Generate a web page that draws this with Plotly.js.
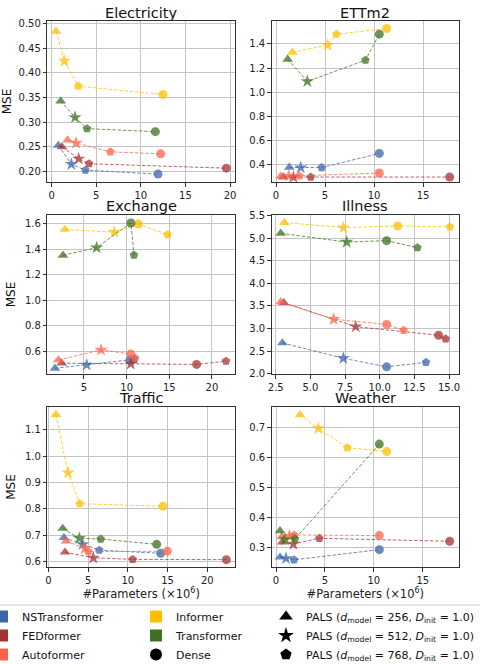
<!DOCTYPE html>
<html>
<head>
<meta charset="utf-8">
<script src="https://cdn.plot.ly/plotly-3.0.1.min.js"></script>
<style>html,body{margin:0;padding:0;background:#fff;}#chart{width:480px;height:664px;}</style>
</head>
<body>
<div id="chart"></div>
<script>
// Models and datasets
const models = ['NSTransformer', 'FEDformer', 'Autoformer', 'Informer', 'Transformer'];
const datasets = ['Electricity', 'ETTm2', 'Exchange', 'Illness', 'Traffic', 'Weather'];
// point order in every row: [PALS d=256 (triangle), PALS d=512 (star), PALS d=768 (pentagon), Dense (circle)]
const variantNames = ['PALS (<i>d</i><sub>model</sub> = 256, <i>D</i><sub>init</sub> = 1.0)',
                      'PALS (<i>d</i><sub>model</sub> = 512, <i>D</i><sub>init</sub> = 1.0)',
                      'PALS (<i>d</i><sub>model</sub> = 768, <i>D</i><sub>init</sub> = 1.0)',
                      'Dense'];

// #Parameters (x10^6), one row per model
const electricityParams = [[0.75, 2.21, 3.78, 11.93], [1.16, 3.03, 4.19, 19.59], [1.79, 2.73, 6.58, 12.22], [0.49, 1.42, 2.99, 12.49], [1.01, 2.62, 3.96, 11.63]];
const electricityMSE    = [[0.253, 0.215, 0.203, 0.195], [0.250, 0.226, 0.216, 0.207], [0.264, 0.258, 0.240, 0.236], [0.484, 0.424, 0.373, 0.356], [0.343, 0.310, 0.287, 0.281]];

const ettm2Params = [[1.36, 2.52, 4.66, 10.54], [0.74, 1.77, 3.54, 17.72], [0.48, 1.30, 2.38, 10.54], [1.67, 5.27, 6.16, 11.29], [1.19, 3.20, 9.12, 10.54]];
const ettm2MSE    = [[0.380, 0.378, 0.378, 0.495], [0.300, 0.300, 0.300, 0.300], [0.307, 0.310, 0.310, 0.333], [1.330, 1.390, 1.480, 1.527], [1.273, 1.090, 1.265, 1.480]];

const exchangeParams = [[1.60, 5.32, 10.90, 10.40], [2.39, 10.48, 21.65, 18.20], [2.00, 7.00, 10.98, 10.48], [2.77, 8.55, 14.80, 11.37], [2.54, 6.48, 10.86, 10.50]];
const exchangeMSE    = [[0.470, 0.496, 0.540, 0.535], [0.510, 0.505, 0.525, 0.500], [0.535, 0.613, 0.550, 0.582], [1.553, 1.532, 1.512, 1.595], [1.351, 1.411, 1.353, 1.603]];

const illnessParams = [[2.98, 7.38, 13.34, 10.50], [3.08, 8.27, 14.76, 14.25], [2.86, 6.68, 11.73, 10.50], [3.12, 7.38, 15.07, 11.30], [2.86, 7.62, 12.72, 10.50]];
const illnessMSE    = [[2.68, 2.34, 2.25, 2.15], [3.57, 3.04, 2.77, 2.85], [3.588, 3.205, 2.96, 3.09], [5.345, 5.235, 5.25, 5.27], [5.107, 4.915, 4.79, 4.945]];

const trafficParams = [[1.97, 4.32, 6.41, 14.13], [2.10, 5.66, 10.60, 22.39], [2.23, 4.60, 5.03, 14.97], [0.96, 2.47, 3.94, 14.42], [1.81, 3.90, 6.58, 13.63]];
const trafficMSE    = [[0.691, 0.666, 0.644, 0.632], [0.636, 0.615, 0.609, 0.608], [0.678, 0.651, 0.638, 0.640], [1.157, 0.937, 0.820, 0.810], [0.726, 0.689, 0.686, 0.666]];

const weatherParams = [[0.41, 1.02, 1.84, 10.56], [0.64, 1.77, 4.43, 17.75], [0.58, 1.36, 1.84, 10.56], [2.45, 4.33, 7.29, 11.31], [0.41, 0.92, 1.94, 10.56]];
const weatherMSE    = [[0.267, 0.263, 0.258, 0.292], [0.317, 0.311, 0.330, 0.320], [0.335, 0.338, 0.341, 0.339], [0.743, 0.697, 0.633, 0.620], [0.355, 0.326, 0.328, 0.645]];

// Axis tick labels
const electricityXTicks = [0, 5, 10, 15, 20];
const electricityYTicks = [0.20, 0.25, 0.30, 0.35, 0.40, 0.45, 0.50];
const ettm2XTicks = [0, 5, 10, 15];
const ettm2YTicks = [0.4, 0.6, 0.8, 1.0, 1.2, 1.4];
const exchangeXTicks = [5, 10, 15, 20];
const exchangeYTicks = [0.6, 0.8, 1.0, 1.2, 1.4, 1.6];
const illnessXTicks = [2.5, 5.0, 7.5, 10.0, 12.5, 15.0];
const illnessYTicks = [2.0, 2.5, 3.0, 3.5, 4.0, 4.5, 5.0, 5.5];
const trafficXTicks = [0, 5, 10, 15, 20];
const trafficYTicks = [0.6, 0.7, 0.8, 0.9, 1.0, 1.1];
const weatherXTicks = [0, 5, 10, 15];
const weatherYTicks = [0.3, 0.4, 0.5, 0.6, 0.7];

// ---------- styling ----------
const colors = ['#3b66a8', '#a83232', '#ff6347', '#ffbf00', '#3e7222'];
const lineColors = ['rgba(59,102,168,0.75)', 'rgba(168,50,50,0.75)', 'rgba(255,99,71,0.75)', 'rgba(255,191,0,0.75)', 'rgba(62,114,34,0.75)'];
const symbols = ['triangle-up', 'star', 'pentagon', 'circle'];
const symSizes = [9.5, 10, 9, 9];

const allParams = [electricityParams, ettm2Params, exchangeParams, illnessParams, trafficParams, weatherParams];
const allMSE = [electricityMSE, ettm2MSE, exchangeMSE, illnessMSE, trafficMSE, weatherMSE];
const xTicks = [electricityXTicks, ettm2XTicks, exchangeXTicks, illnessXTicks, trafficXTicks, weatherXTicks];
const yTicks = [electricityYTicks, ettm2YTicks, exchangeYTicks, illnessYTicks, trafficYTicks, weatherYTicks];
const xFmt = ['d', 'd', 'd', '.1f', 'd', 'd'];
const yFmt = ['.2f', '.1f', '.1f', '.1f', '.1f', '.1f'];
const xRanges = [[-0.49, 20.56], [-0.44, 18.67], [0.70, 22.7], [2.21, 15.72], [-0.13, 23.48], [-0.44, 18.7]];
const yRanges = [[0.179, 0.505], [0.259, 1.589], [0.423, 1.668], [1.985, 5.52], [0.579, 1.187], [0.233, 0.770]];

const W = 480, H = 664;
const colDom = [[47.3 / W, 235 / W], [271.7 / W, 459 / W]];
const rowPx = [[21, 182], [214.7, 374.3], [406.7, 567.3]];
const rowDom = rowPx.map(r => [1 - r[1] / H, 1 - r[0] / H]);

const traces = [];
const layout = {
  width: W, height: H,
  margin: {l: 0, r: 0, t: 0, b: 0, pad: 0, autoexpand: false},
  paper_bgcolor: '#ffffff', plot_bgcolor: '#ffffff',
  font: {family: 'DejaVu Sans', size: 10, color: '#222'},
  showlegend: true,
  annotations: [], shapes: []
};

datasets.forEach((name, d) => {
  const col = d % 2, row = Math.floor(d / 2);
  const xa = d === 0 ? 'xaxis' : 'xaxis' + (d + 1);
  const ya = d === 0 ? 'yaxis' : 'yaxis' + (d + 1);
  const xr = 'x' + (d === 0 ? '' : d + 1), yr = 'y' + (d === 0 ? '' : d + 1);
  const common = {
    showgrid: true, gridcolor: '#c4c4c4', gridwidth: 1,
    showline: true, mirror: true, linecolor: '#333', linewidth: 1,
    ticks: 'outside', ticklen: 3.5, tickcolor: '#333', zeroline: false,
    tickfont: {size: 10, color: '#222'}, fixedrange: true, automargin: false
  };
  layout[xa] = Object.assign({}, common, {
    domain: colDom[col], anchor: yr, range: xRanges[d],
    tickmode: 'array', tickvals: xTicks[d], ticktext: xTicks[d].map(v => xFmt[d] === 'd' ? String(v) : v.toFixed(1))
  });
  layout[ya] = Object.assign({}, common, {
    domain: rowDom[row], anchor: xr, range: yRanges[d],
    tickmode: 'array', tickvals: yTicks[d], ticktext: yTicks[d].map(v => v.toFixed(yFmt[d] === '.2f' ? 2 : 1))
  });
  if (col === 0) layout[ya].title = {text: 'MSE', font: {size: 12, color: '#111'}, standoff: 6};
  if (row === 2) layout[xa].title = {text: '#Parameters (×10<sup>6</sup>)', font: {size: 11.5, color: '#222'}, standoff: 3};

  layout.annotations.push({
    text: name, xref: 'paper', yref: 'paper',
    x: (colDom[col][0] + colDom[col][1]) / 2, y: 1 - (rowPx[row][0] - 8.5) / H,
    xanchor: 'center', yanchor: 'middle', showarrow: false,
    font: {size: 14.5, color: '#111'}
  });

  models.forEach((m, k) => {
    const px = allParams[d][k], py = allMSE[d][k];
    const idx = [0, 1, 2, 3].sort((a, b) => px[a] - px[b]);
    traces.push({
      type: 'scatter', mode: 'lines+markers',
      x: idx.map(i => px[i]), y: idx.map(i => py[i]),
      xaxis: xr, yaxis: yr, showlegend: false, hoverinfo: 'skip',
      line: {color: lineColors[k], width: 1, dash: '3.5px,1.8px'},
      marker: {symbol: idx.map(i => symbols[i]), size: idx.map(i => symSizes[i]), color: colors[k], opacity: 0.75, line: {width: 0}},
      cliponaxis: true
    });
  });
});

// legend entries
models.forEach((m, k) => {
  traces.push({type: 'scatter', mode: 'markers', x: [null], y: [null], name: m,
    legend: k < 3 ? 'legend' : 'legend2',
    marker: {symbol: 'square', size: 12, color: colors[k]}});
});
traces.push({type: 'scatter', mode: 'markers', x: [null], y: [null], name: variantNames[3],
  legend: 'legend2', marker: {symbol: 'circle', size: 12, color: '#000'}});
[0, 1, 2].forEach(i => {
  traces.push({type: 'scatter', mode: 'markers', x: [null], y: [null], name: variantNames[i],
    legend: 'legend3', marker: {symbol: symbols[i], size: 12, color: '#000'}});
});

const lineY = 1 - 605 / H;
const legTop = 1 - 602 / H;
const legCommon = {orientation: 'v', yanchor: 'top', xanchor: 'left', y: legTop,
  bgcolor: 'rgba(0,0,0,0)', borderwidth: 0, font: {size: 11, color: '#111'},
  itemclick: false, itemdoubleclick: false, traceorder: 'normal'};
layout.legend = Object.assign({}, legCommon, {x: -18 / W});
layout.legend2 = Object.assign({}, legCommon, {x: 136 / W});
layout.legend3 = Object.assign({}, legCommon, {x: 266 / W});

layout.shapes.push({type: 'line', xref: 'paper', yref: 'paper', x0: 0, x1: 1, y0: lineY, y1: lineY,
  line: {color: '#cccccc', width: 1}});

Plotly.newPlot('chart', traces, layout, {staticPlot: true, displayModeBar: false});
</script>
</body>
</html>
